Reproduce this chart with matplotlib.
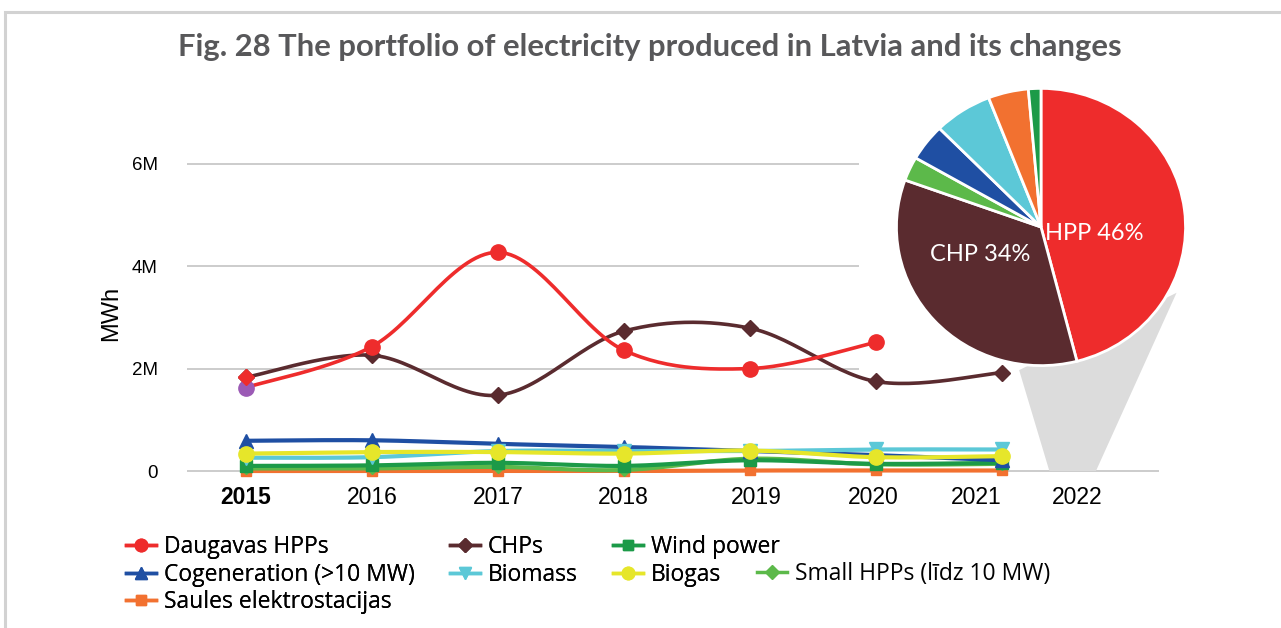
"""Portfolio of electricity produced in Latvia - line chart + pie for 2022."""

import numpy as np
import matplotlib
matplotlib.use("Agg")
import matplotlib.pyplot as plt
from matplotlib.lines import Line2D
from matplotlib.patches import Polygon, Rectangle

# years on x axis
years = [2015, 2016, 2017, 2018, 2019, 2020, 2021]
tick_labels = ["2015", "2016", "2017", "2018", "2019", "2020", "2021", "2022"]
# the category labels sit a bit closer together at the right end
tick_pos = [2015, 2016, 2017, 2018, 2019.05, 2019.98, 2020.8, 2021.6]

# production, million MWh
daugavas = [1.63, 2.43, 4.27, 2.36, 2.00, 2.51]
chps = [1.83, 2.26, 1.48, 2.73, 2.79, 1.75, 1.92]
wind = [0.10, 0.11, 0.16, 0.10, 0.21, 0.14, 0.16]
cogeneration = [0.59, 0.60, 0.53, 0.47, 0.39, 0.31, 0.21]
biomass = [0.26, 0.27, 0.39, 0.39, 0.39, 0.42, 0.42]
biogas = [0.34, 0.37, 0.37, 0.34, 0.40, 0.27, 0.29]
small_hpp = [0.05, 0.05, 0.08, 0.02, 0.24, 0.13, 0.14]
saules = [0.00, 0.00, 0.00, 0.00, 0.01, 0.01, 0.01]

# pie 2022, percent
pie_names = ["HPP", "CHP", "Small HPPs", "Cogeneration", "Biomass", "Saules", "Wind"]
pie_shares = [46, 34.5, 2.8, 4.3, 6.5, 4.5, 1.4]

c_red = "#ee2c2c"
c_brown = "#5a2b2f"
c_wind = "#1c9a48"
c_blue = "#1f4fa3"
c_cyan = "#5cc8d7"
c_yellow = "#e6e62a"
c_lgreen = "#5cb94a"
c_orange = "#f27130"
c_purple = "#9b5ab5"

FONT = ["Lato", "DejaVu Sans"]
LEGFONT = ["Open Sans", "DejaVu Sans"]
TICKFONT = ["Liberation Sans", "DejaVu Sans"]


def smooth(x, y, n=30):
    """Bezier smoothing (Excel-like) through the data points."""
    p = np.column_stack([x, y]).astype(float)
    out = [p[:1]]
    for i in range(len(p) - 1):
        p0 = p[i - 1] if i > 0 else p[i]
        p3 = p[i + 2] if i + 2 < len(p) else p[i + 1]
        c1 = p[i] + (p[i + 1] - p0) / 6
        c2 = p[i + 1] - (p3 - p[i]) / 6
        t = np.linspace(0, 1, n)[1:, None]
        seg = ((1 - t) ** 3 * p[i] + 3 * (1 - t) ** 2 * t * c1
               + 3 * (1 - t) * t ** 2 * c2 + t ** 3 * p[i + 1])
        out.append(seg)
    s = np.vstack(out)
    return s[:, 0], s[:, 1]


fig = plt.figure(figsize=(12.81, 6.28), dpi=100)

# outer frame
fig.patches.append(Rectangle((5 / 1281, -0.1), 1.2, 1.1 - 12 / 628,
                             transform=fig.transFigure, fill=False,
                             edgecolor="#d2d2d2", lw=2.2))

fig.text(650 / 1281, 0.925,
         "Fig. 28 The portfolio of electricity produced in Latvia and its changes",
         ha="center", va="center", fontsize=22.3, fontweight="bold",
         color="#58585a", family=FONT)

ax = fig.add_axes([0.146, 0.2296, 0.7931, 0.5586])
ax.set_xlim(2014.532, 2022.6)
ax.set_ylim(-0.25, 6.6)
for s in ax.spines.values():
    s.set_visible(False)

# grid lines
ax.hlines([2, 4, 6], 2014.532, 2019.87, color="#c8c8c8", lw=1.3, zorder=1)
ax.hlines(0, 2014.532, 2022.25, color="#c8c8c8", lw=1.3, zorder=1)

# funnel from 2022 to the pie
ax.add_patch(Polygon([(2021.38, 0), (2021.75, 0), (2022.39, 3.48), (2021.14, 1.97)],
                     closed=True, facecolor="#dcdcdc", edgecolor="none", zorder=1))

series = [
    (saules, c_orange, "s", 7, "Saules elektrostacijas"),
    (small_hpp, c_lgreen, "D", 6, "Small HPPs (līdz 10 MW)"),
    (wind, c_wind, "s", 8, "Wind power"),
    (cogeneration, c_blue, "^", 10, "Cogeneration (>10 MW)"),
    (biomass, c_cyan, "v", 10, "Biomass"),
    (biogas, c_yellow, "o", 11, "Biogas"),
]
for vals, col, mk, ms, name in series:
    sx, sy = smooth(years, vals)
    ax.plot(sx, sy, color=col, lw=3, zorder=3, solid_capstyle="round")
    ax.plot(years, vals, linestyle="none", marker=mk, ms=ms, color=col, zorder=4)

sx, sy = smooth(years, chps)
ax.plot(sx, sy, color=c_brown, lw=2.6, zorder=5)
ax.plot(years, chps, linestyle="none", marker="D", ms=8, color=c_brown, zorder=6)

sx, sy = smooth(years[:len(daugavas)], daugavas)
ax.plot(sx, sy, color=c_red, lw=2.6, zorder=5)
ax.plot(years[1:len(daugavas)], daugavas[1:], linestyle="none", marker="o", ms=11,
        color=c_red, zorder=6)
ax.plot(years[:1], daugavas[:1], linestyle="none", marker="o", ms=11,
        color=c_purple, zorder=6)
ax.plot(years[:1], chps[:1], linestyle="none", marker="D", ms=8,
        color=c_red, zorder=7)

ax.set_yticks([0, 2, 4, 6])
ax.set_yticklabels(["0", "2M", "4M", "6M"], family=TICKFONT, fontsize=13.5)
ax.set_xticks(tick_pos)
ax.set_xticklabels(tick_labels, family=TICKFONT, fontsize=16.5)
ax.get_xticklabels()[0].set_fontweight("bold")
ax.tick_params(length=0)
ax.tick_params(axis="x", pad=1.5)
ax.tick_params(axis="y", pad=21)
ax.set_ylabel("MWh", family=TICKFONT, fontsize=17)
ax.yaxis.set_label_coords(-0.064, 0.487)

# legend, column-major with blank slots
blank = Line2D([], [], linestyle="none")
entries = [
    (Line2D([], [], color=c_red, marker="o", ms=9, lw=2.5), "Daugavas HPPs"),
    (Line2D([], [], color=c_blue, marker="^", ms=9, lw=2.5), "Cogeneration (>10 MW)"),
    (Line2D([], [], color=c_orange, marker="s", ms=7, lw=2.5), "Saules elektrostacijas"),
    (Line2D([], [], color=c_brown, marker="D", ms=7, lw=2.5), "CHPs"),
    (Line2D([], [], color=c_cyan, marker="v", ms=9, lw=2.5), "Biomass"),
    (blank, ""),
    (Line2D([], [], color=c_wind, marker="s", ms=7, lw=2.5), "Wind power"),
    (Line2D([], [], color=c_yellow, marker="o", ms=9, lw=2.5), "Biogas"),
    (blank, ""),
]
leg_kw = dict(frameon=False, prop={"family": LEGFONT, "size": 16.5},
              handlelength=1.3, handletextpad=0.35, labelspacing=0.16,
              borderpad=0, borderaxespad=0)
leg = fig.legend([e[0] for e in entries], [e[1] for e in entries], ncol=3,
                 loc="upper left", bbox_to_anchor=(126 / 1281, 1 - 535 / 628),
                 columnspacing=1.55, **leg_kw)
fig.add_artist(leg)
fig.legend([Line2D([], [], color=c_lgreen, marker="D", ms=7, lw=2.5)],
           ["Small HPPs (līdz 10 MW)"], loc="upper left",
           bbox_to_anchor=(757 / 1281, 1 - 562 / 628), **leg_kw)

# pie for 2022
pax = fig.add_axes([895 / 1281, 1 - 367 / 628, 292 / 1281, 280 / 628])
pie_colors = [c_red, c_brown, c_lgreen, c_blue, c_cyan, c_orange, c_wind]
wedges, _ = pax.pie(pie_shares, colors=pie_colors, startangle=90, counterclock=False,
                    wedgeprops={"edgecolor": "white", "linewidth": 2})
pax.set_xlim(-1.01, 1.01)
pax.set_ylim(-1.01, 1.01)
pax.set_aspect("auto")
pax.text(0.37, -0.05, f"{pie_names[0]} {pie_shares[0]:.0f}%", color="white",
         ha="center", va="center", fontsize=17, family=FONT)
pax.text(-0.42, -0.2, f"{pie_names[1]} {pie_shares[1]:.0f}%", color="white",
         ha="center", va="center", fontsize=17, family=FONT)

fig.savefig("out.png", dpi=100)
